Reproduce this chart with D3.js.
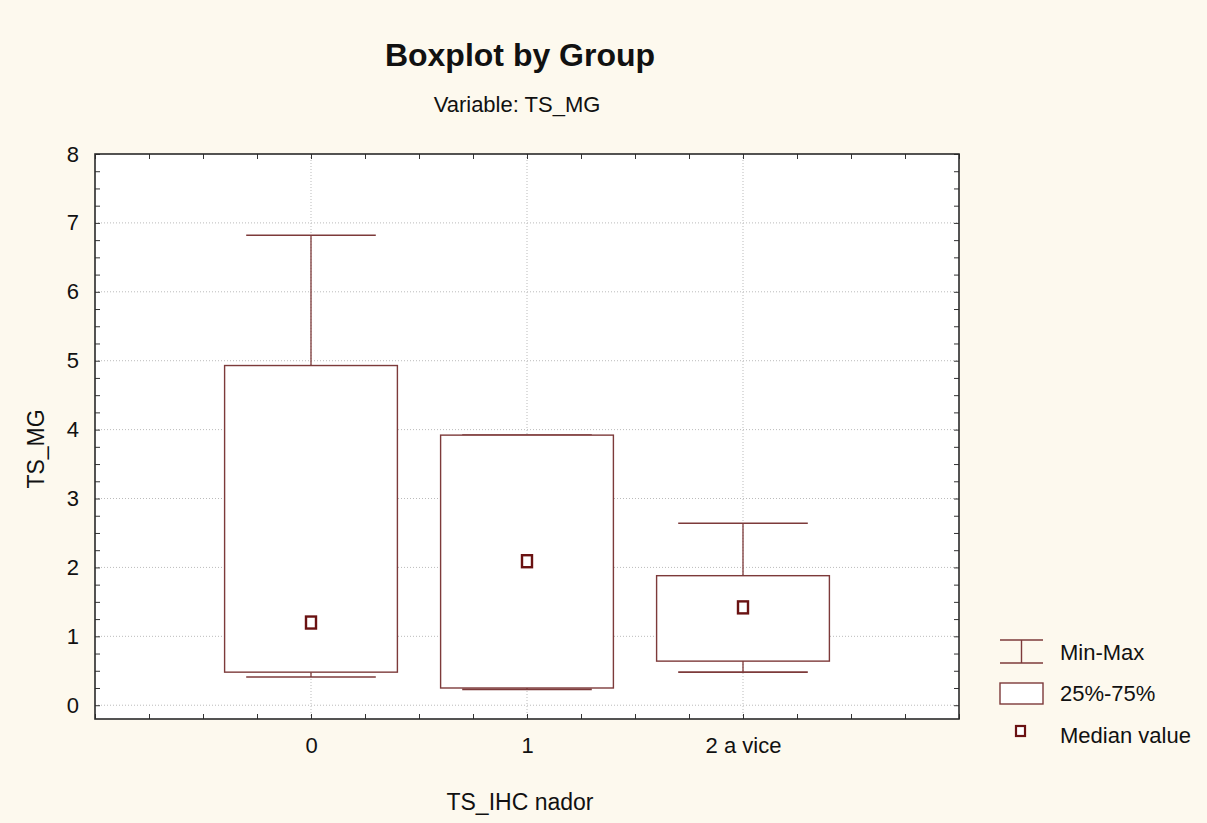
<!DOCTYPE html>
<html>
<head>
<meta charset="utf-8">
<script src="https://cdn.jsdelivr.net/npm/d3@7"></script>
<style>
  body { margin:0; background:#fdf9ee; }
  svg text { font-family: "Liberation Sans", Arial, sans-serif; fill:#111; }
</style>
</head>
<body>
<svg id="chart" width="1207" height="823"></svg>
<script>
// data
var groups   = ["0", "1", "2 a vice"];
var minVals  = [0.41, 0.23, 0.48];
var q1Vals   = [0.48, 0.25, 0.64];
var medVals  = [1.20, 2.09, 1.42];
var q3Vals   = [4.93, 3.92, 1.88];
var maxVals  = [6.82, 3.92, 2.64];
var yTicks   = [0, 1, 2, 3, 4, 5, 6, 7, 8];
var legendLabels = ["Min-Max", "25%-75%", "Median value"];

var boxColor = "#7d3a3a";
var medColor = "#6a1212";

var svg = d3.select("#chart");

var plotL = 95, plotR = 959, plotT = 154, plotB = 719;

var xScale = d3.scaleLinear().domain([-1, 3]).range([plotL, plotR]);
var yScale = d3.scaleLinear().domain([-0.2, 8]).range([plotB, plotT]);

// plot background
svg.append("rect")
  .attr("x", plotL).attr("y", plotT)
  .attr("width", plotR-plotL).attr("height", plotB-plotT)
  .attr("fill", "#ffffff");

// grid lines
var grid = svg.append("g").attr("class", "grid");
grid.selectAll("line.gy")
  .data(yTicks.filter(d => d < 8))
  .enter().append("line")
    .attr("x1", plotL).attr("x2", plotR)
    .attr("y1", d => yScale(d)).attr("y2", d => yScale(d))
    .attr("stroke", "#bbbbbb").attr("stroke-width", 1)
    .attr("stroke-dasharray", "1,2");
grid.selectAll("line.gx")
  .data(groups.map((d,i) => i))
  .enter().append("line")
    .attr("x1", d => xScale(d)).attr("x2", d => xScale(d))
    .attr("y1", plotT).attr("y2", plotB)
    .attr("stroke", "#bbbbbb").attr("stroke-width", 1)
    .attr("stroke-dasharray", "1,2");

// minor ticks, pointing inward on all four sides
var yMinor = d3.range(0, 8.01, 0.25);
var xMinor = d3.range(-1, 3.01, 0.25);

svg.append("g")
  .attr("transform", `translate(${plotL},0)`)
  .call(d3.axisRight(yScale).tickValues(yMinor).tickSize(5).tickFormat(""))
  .call(g => g.select(".domain").remove())
  .selectAll("line").attr("stroke", "#333");
svg.append("g")
  .attr("transform", `translate(${plotR},0)`)
  .call(d3.axisLeft(yScale).tickValues(yMinor).tickSize(5).tickFormat(""))
  .call(g => g.select(".domain").remove())
  .selectAll("line").attr("stroke", "#333");
svg.append("g")
  .attr("transform", `translate(0,${plotT})`)
  .call(d3.axisBottom(xScale).tickValues(xMinor).tickSize(5).tickFormat(""))
  .call(g => g.select(".domain").remove())
  .selectAll("line").attr("stroke", "#333");
svg.append("g")
  .attr("transform", `translate(0,${plotB})`)
  .call(d3.axisTop(xScale).tickValues(xMinor).tickSize(5).tickFormat(""))
  .call(g => g.select(".domain").remove())
  .selectAll("line").attr("stroke", "#333");

// y tick labels
var yAxis = svg.append("g")
  .attr("transform", `translate(${plotL},0)`)
  .call(d3.axisLeft(yScale).tickValues(yTicks).tickSize(0).tickPadding(16));
yAxis.select(".domain").remove();
yAxis.selectAll("text").attr("font-size", "22px").attr("font-family", "Liberation Sans, Arial, sans-serif").attr("fill", "#111");

// x tick labels
var xAxis = svg.append("g")
  .attr("transform", `translate(0,${plotB})`)
  .call(d3.axisBottom(xScale).tickValues([0, 1, 2]).tickSize(0).tickPadding(18)
    .tickFormat(d => groups[d]));
xAxis.select(".domain").remove();
xAxis.selectAll("text").attr("font-size", "22px").attr("font-family", "Liberation Sans, Arial, sans-serif").attr("fill", "#111");

// boxes
var boxes = svg.append("g").attr("class", "boxes");
groups.forEach(function(g, i){
  var cx = xScale(i);
  var hw = xScale(i + 0.4) - cx;
  var cw = xScale(i + 0.3) - cx;
  // whisker stems
  boxes.append("line")
    .attr("x1", cx).attr("x2", cx)
    .attr("y1", yScale(maxVals[i])).attr("y2", yScale(q3Vals[i]))
    .attr("stroke", boxColor).attr("stroke-width", 1.3);
  boxes.append("line")
    .attr("x1", cx).attr("x2", cx)
    .attr("y1", yScale(q1Vals[i])).attr("y2", yScale(minVals[i]))
    .attr("stroke", boxColor).attr("stroke-width", 1.3);
  // caps
  [minVals[i], maxVals[i]].forEach(function(v){
    boxes.append("line")
      .attr("x1", cx - cw).attr("x2", cx + cw)
      .attr("y1", yScale(v)).attr("y2", yScale(v))
      .attr("stroke", boxColor).attr("stroke-width", 1.6);
  });
  // box
  boxes.append("rect")
    .attr("x", cx - hw).attr("width", 2*hw)
    .attr("y", yScale(q3Vals[i]))
    .attr("height", yScale(q1Vals[i]) - yScale(q3Vals[i]))
    .attr("fill", "#ffffff").attr("stroke", boxColor).attr("stroke-width", 1.4);
  // median
  boxes.append("rect")
    .attr("x", cx - 5).attr("y", yScale(medVals[i]) - 6)
    .attr("width", 10).attr("height", 12)
    .attr("fill", "#ffffff").attr("stroke", medColor).attr("stroke-width", 2.4);
});

// frame
svg.append("rect")
  .attr("x", plotL).attr("y", plotT)
  .attr("width", plotR-plotL).attr("height", plotB-plotT)
  .attr("fill", "none").attr("stroke", "#2a2a2a").attr("stroke-width", 1.6);

// titles
svg.append("text")
  .attr("x", 520).attr("y", 66)
  .attr("text-anchor", "middle")
  .attr("font-size", "32px").attr("font-weight", "bold")
  .text("Boxplot by Group");
svg.append("text")
  .attr("x", 517).attr("y", 112)
  .attr("text-anchor", "middle")
  .attr("font-size", "22px")
  .text("Variable: TS_MG");

svg.append("text")
  .attr("transform", "translate(44,449) rotate(-90)")
  .attr("text-anchor", "middle")
  .attr("font-size", "23px")
  .text("TS_MG");
svg.append("text")
  .attr("x", 520).attr("y", 810)
  .attr("text-anchor", "middle")
  .attr("font-size", "23px")
  .text("TS_IHC nador");

// legend
var leg = svg.append("g").attr("class", "legend");
var legY = [652, 693, 735];
leg.append("line").attr("x1", 1000).attr("x2", 1043).attr("y1", 640).attr("y2", 640)
  .attr("stroke", boxColor).attr("stroke-width", 1.4);
leg.append("line").attr("x1", 1000).attr("x2", 1043).attr("y1", 663).attr("y2", 663)
  .attr("stroke", boxColor).attr("stroke-width", 1.4);
leg.append("line").attr("x1", 1021.5).attr("x2", 1021.5).attr("y1", 640).attr("y2", 663)
  .attr("stroke", boxColor).attr("stroke-width", 1.4);
leg.append("rect").attr("x", 1000).attr("y", 683).attr("width", 43).attr("height", 21)
  .attr("fill", "#ffffff").attr("stroke", boxColor).attr("stroke-width", 1.4);
leg.append("rect").attr("x", 1016).attr("y", 726).attr("width", 9).attr("height", 10)
  .attr("fill", "#ffffff").attr("stroke", medColor).attr("stroke-width", 2.2);
leg.selectAll("text.lt")
  .data(legendLabels)
  .enter().append("text")
    .attr("x", 1060).attr("y", (d,i) => legY[i])
    .attr("dy", "0.35em")
    .attr("font-size", "22px")
    .text(d => d);
</script>
</body>
</html>
